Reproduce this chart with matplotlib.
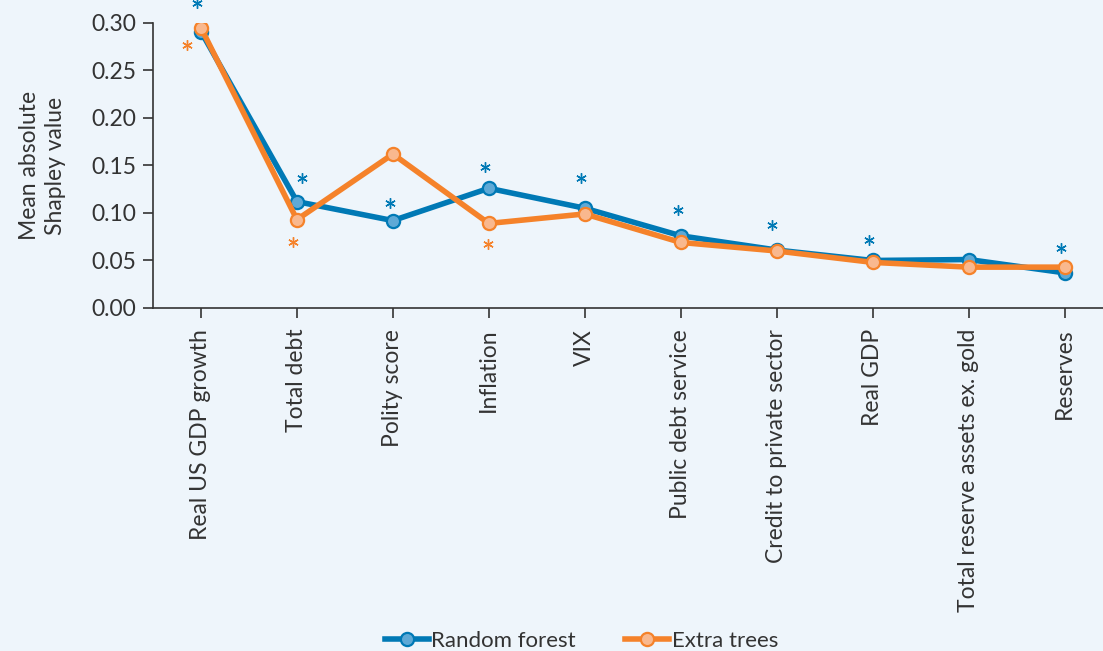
import numpy as np
import matplotlib.pyplot as plt

features = ["Real US GDP growth", "Total debt", "Polity score", "Inflation", "VIX",
            "Public debt service", "Credit to private sector", "Real GDP",
            "Total reserve assets ex. gold", "Reserves"]
random_forest = [0.291, 0.112, 0.092, 0.126, 0.105, 0.076, 0.061, 0.050, 0.051, 0.037]
extra_trees = [0.295, 0.093, 0.162, 0.089, 0.099, 0.069, 0.060, 0.048, 0.043, 0.043]

# significance stars: (feature position, y position)
rf_star_x = [-0.04, 1.05, 1.97, 2.96, 3.96, 4.97, 5.95, 6.96, 8.96]
rf_star_y = [0.321, 0.137, 0.111, 0.148, 0.137, 0.103, 0.087, 0.072, 0.063]
et_star_x = [-0.15, 0.96, 2.99]
et_star_y = [0.277, 0.069, 0.067]

bg = "#eef5fb"
blue = "#0079b5"
orange = "#f5822a"
txt = "#333333"

plt.rcParams['font.family'] = ['Lato', 'DejaVu Sans']

fig = plt.figure(figsize=(11.03, 6.51), dpi=100, facecolor=bg)
ax = fig.add_axes([0.1387, 0.5269, 0.8613, 0.4378], facecolor=bg)

x = np.arange(len(features))
ax.plot(x, random_forest, color=blue, lw=4, marker='o', ms=9.5,
        mfc="#5ea9d6", mec=blue, mew=1.6, label="Random forest", zorder=3)
ax.plot(x, extra_trees, color=orange, lw=4, marker='o', ms=9.5,
        mfc="#f9b88e", mec=orange, mew=1.6, label="Extra trees", zorder=4)

ax.plot(rf_star_x, rf_star_y, ls='none', marker=(6, 2, 0), ms=7.5, mew=1.0,
        color=blue, clip_on=False)
ax.plot(et_star_x, et_star_y, ls='none', marker=(6, 2, 0), ms=7.5, mew=1.0,
        color=orange, clip_on=False)

ax.set_xlim(-0.5, 9.4)
ax.set_ylim(0, 0.30)
ax.set_yticks(np.arange(0, 0.31, 0.05))
ax.set_yticklabels([f"{v:.2f}" for v in np.arange(0, 0.31, 0.05)])
ax.set_xticks(x)
ax.set_xticklabels(features, rotation=90)
ax.tick_params(colors=txt, labelsize=16.5, length=7, width=1.2, pad=5)
ax.tick_params(axis='x', pad=8)
for s in ['top', 'right']:
    ax.spines[s].set_visible(False)
for s in ['left', 'bottom']:
    ax.spines[s].set_color(txt)
    ax.spines[s].set_linewidth(1.2)
ax.set_ylabel("Mean absolute\nShapley value", fontsize=16.5, color=txt, labelpad=18,
              linespacing=1.3)

leg = fig.legend(loc='center', bbox_to_anchor=(0.527, 0.016), ncol=2, frameon=False,
                 fontsize=16, handlelength=2.0, columnspacing=2.2, handletextpad=0.1)
for t in leg.get_texts():
    t.set_color(txt)

fig.savefig("out.png", dpi=100, facecolor=bg)
